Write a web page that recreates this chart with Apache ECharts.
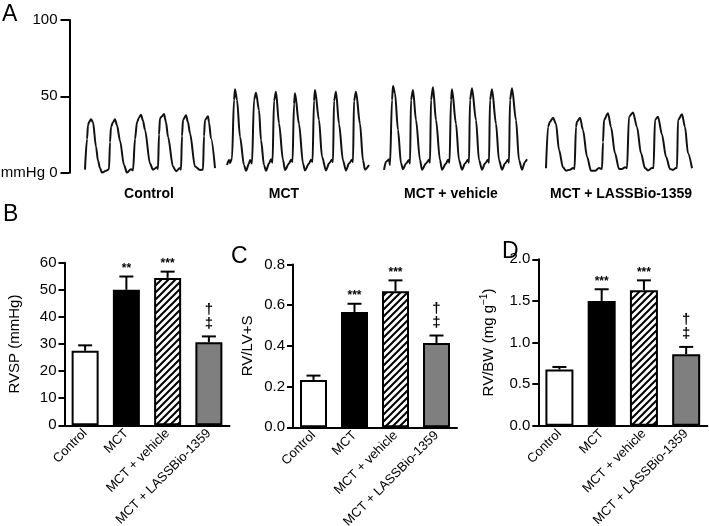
<!DOCTYPE html>
<html>
<head>
<meta charset="utf-8">
<script src="https://cdn.jsdelivr.net/npm/echarts@6/dist/echarts.min.js"></script>
<style>
  html, body { margin: 0; padding: 0; background: #fff; }
  #chart { width: 709px; height: 526px; }
</style>
</head>
<body>
<div id="chart"></div>
<script>
const groups = ['Control', 'MCT', 'MCT + vehicle', 'MCT + LASSBio-1359']

// panel A: RV pressure traces, [time, mmHg]
const controlTrace = [
  [0, 2], [2, 22], [3, 31], [4, 33], [6, 35], [8, 33], [11, 17], [13, 8], [15, 3], [17, 0], [21, 1.3], [24, 2.3],
  [25, 20], [26, 30], [28, 33], [30, 35], [32, 31], [35, 21], [39, 5], [42, 0], [46, 2.3], [48, 1.5],
  [50, 22], [52, 33], [54, 36], [56, 38], [58, 34], [60, 28], [65, 6], [68, 2], [72, 3.5], [73, 2.5],
  [74, 25], [75, 35.6], [77, 37], [79, 38.4], [81, 33], [83, 23.6], [88, 4], [91, 1], [95, 3], [96, 2],
  [97, 24], [98, 34.5], [101, 37.6], [103, 33], [105, 25.8], [110, 4], [115, 1.8], [118, 2],
  [119, 24], [120, 34.5], [123, 37], [124, 33], [126, 22.5], [130, 3]
]
const mctTrace = [
  [0, 5], [2, 8.3], [3, 6.4], [5, 9.4], [7, 47.6], [8, 54.6], [10, 47.6], [13, 23.6], [17, 5], [19, 1.3],
  [22, 6], [23, 8.3], [25, 6], [27, 47.6], [29, 52.4], [32, 41], [34, 21.4], [37, 5], [39, 1.3],
  [42, 6], [44, 8.8], [45.5, 6.5], [47, 47], [49, 53], [52, 32.4], [56, 8.3], [58, 1.8],
  [62, 6], [64, 8.5], [65.5, 7], [67, 45], [68, 52], [72, 32], [76, 6], [78, 1.5],
  [82, 6], [84, 8.5], [85.5, 7], [87, 47], [88, 54.2], [92, 34.5], [95, 10.5], [99, 1.5],
  [102, 6], [105, 8.5], [106, 7], [107, 47], [109, 53], [112, 32], [116, 8], [119, 1.5],
  [122, 6], [125, 8.5], [126, 7], [127, 47], [129, 53], [133, 32], [136, 8], [138, 2], [142, 5]
]
const vehicleTrace = [
  [0, 1.8], [2, 7.2], [5, 8.7], [6, 5], [8, 47.6], [9, 56.8], [11, 52], [14, 28], [17, 6.2], [19, 2.2],
  [22, 6], [25, 8.3], [26, 6], [27, 47.6], [29, 54.2], [32, 34.5], [36, 8.3], [38, 2],
  [42, 6], [45, 8.5], [46, 6.5], [47, 47.6], [49, 56], [52, 34.5], [56, 8.3], [58, 2],
  [62, 6], [64, 8.5], [65.5, 6.5], [67, 47.6], [68, 54.6], [72, 32], [75, 8.3], [78, 2],
  [81, 6], [84, 8.5], [85, 6.5], [86, 47.6], [88, 55.3], [92, 34.5], [95, 8.3], [98, 2],
  [101, 6], [104, 8.5], [105, 6.5], [106, 47.6], [108, 54.6], [112, 32], [115, 8.3], [118, 2],
  [121, 6], [124, 8.5], [125, 6.5], [126, 47.6], [128, 55.3], [132, 34.5], [135, 8.3], [138, 2],
  [141, 7], [143, 8.8]
]
const lassbioTrace = [
  [0, 2.9], [2, 30], [4, 33.4], [7, 36], [10, 32], [13, 15], [17, 3.5], [20, 1.3], [24, 2], [27, 3],
  [28.5, 2.5], [30, 30], [31, 33.4], [34, 36], [37, 28], [41, 10.5], [45, 1.3], [49, 1.3], [53, 3],
  [56, 2.5], [57, 20], [58, 34.5], [62, 38.9], [65, 30], [69, 12.7], [73, 2.5], [76, 2.5], [79, 3.5],
  [81, 3], [83, 36.7], [87, 39.5], [91, 30], [95, 12.7], [99, 3], [102, 1.5], [106, 3],
  [107.5, 3], [109, 34.5], [112, 36.7], [116, 25], [120, 10.5], [124, 2.5], [127, 1.8], [130, 3],
  [131, 3], [132, 34.5], [136, 38.2], [139, 30], [142, 12.7], [146, 2.9]
]
const traceTicks = [0, 50, 100]

// panel B: RVSP (mmHg)
const rvspMean = [27.5, 50.0, 54.4, 30.6]
const rvspSem = [2.0, 4.9, 2.3, 2.2]
const rvspSig = ['', '**', '***', '†‡']
// panel C: RV/LV+S
const ratioMean = [0.233, 0.566, 0.668, 0.414]
const ratioSem = [0.021, 0.041, 0.054, 0.037]
const ratioSig = ['', '***', '***', '†‡']
// panel D: RV/BW (mg g-1)
const rvbwMean = [0.676, 1.50, 1.627, 0.86]
const rvbwSem = [0.03, 0.14, 0.12, 0.087]
const rvbwSig = ['', '***', '***', '†‡']

const font = 'Liberation Sans, Arial, Helvetica, sans-serif'

// diagonal hatch for MCT + vehicle
const hatch = document.createElement('canvas')
hatch.width = 7
hatch.height = 7
const hctx = hatch.getContext('2d')
hctx.fillStyle = '#fff'
hctx.fillRect(0, 0, 7, 7)
hctx.strokeStyle = '#000'
hctx.lineWidth = 2
hctx.beginPath()
hctx.moveTo(-1, 8); hctx.lineTo(8, -1)
hctx.moveTo(-3, 3); hctx.lineTo(3, -3)
hctx.moveTo(4, 10); hctx.lineTo(10, 4)
hctx.stroke()

const barFills = ['#fff', '#000', { image: hatch, repeat: 'repeat' }, '#7f7f7f']

const chart = echarts.init(document.getElementById('chart'))

const traceGrids = [
  { left: 85, width: 130, data: controlTrace },
  { left: 227, width: 142, data: mctTrace },
  { left: 384, width: 143, data: vehicleTrace },
  { left: 546, width: 146, data: lassbioTrace }
]

const panels = [
  { left: 64.5, width: 165, top: 262.7, bottom: 425.3, max: 60, interval: 10, digits: 0,
    name: 'RVSP (mmHg)', nameGap: 42, mean: rvspMean, sem: rvspSem, sig: rvspSig, barWidth: 27 },
  { left: 293, width: 164, top: 264.5, bottom: 427.3, max: 0.8, interval: 0.2, digits: 1,
    name: 'RV/LV+S', nameGap: 38, mean: ratioMean, sem: ratioSem, sig: ratioSig, barWidth: 27 },
  { left: 538.3, width: 169, top: 259.3, bottom: 425.7, max: 2, interval: 0.5, digits: 1,
    name: '{a|RV/BW (mg g}{s|−1}{a|)}', nameGap: 40, mean: rvbwMean, sem: rvbwSem, sig: rvbwSig, barWidth: 28 }
]

const grid = [{ left: 69.5, top: 20, width: 10, height: 152.7, outerBoundsMode: 'none' }]
const xAxis = [{ gridIndex: 0, type: 'value', min: 0, max: 1, show: false }]
const yAxis = [{
  gridIndex: 0, type: 'value', min: 0, max: 100, interval: 50,
  axisLine: { show: true, lineStyle: { color: '#000', width: 2 } },
  axisTick: { show: true, length: 9, lineStyle: { color: '#000', width: 2 } },
  axisLabel: {
    margin: 12, fontSize: 15, color: '#000', fontFamily: font,
    formatter: v => (v === traceTicks[0] ? 'mmHg 0' : String(v))
  },
  splitLine: { show: false }
}]
const series = []

traceGrids.forEach(t => {
  const gi = grid.length
  grid.push({ left: t.left, top: 20, width: t.width, height: 152.7, outerBoundsMode: 'none' })
  xAxis.push({ gridIndex: gi, type: 'value', min: 0, max: t.width, show: false })
  yAxis.push({ gridIndex: gi, type: 'value', min: 0, max: 100, show: false })
  series.push({
    type: 'line', xAxisIndex: gi, yAxisIndex: gi, data: t.data,
    symbol: 'none', smooth: 0.3, smoothMonotone: 'x',
    lineStyle: { color: '#111', width: 2 }
  })
})

panels.forEach(p => {
  const gi = grid.length
  grid.push({ left: p.left, top: p.top, width: p.width, height: p.bottom - p.top, outerBoundsMode: 'none' })
  xAxis.push({
    gridIndex: gi, type: 'category', data: groups,
    axisLine: { show: true, lineStyle: { color: '#000', width: 2 } },
    axisTick: { show: false },
    axisLabel: { interval: 0, rotate: 45, margin: 6, fontSize: 13, color: '#000', fontFamily: font }
  })
  yAxis.push({
    gridIndex: gi, type: 'value', min: 0, max: p.max, interval: p.interval,
    name: p.name, nameLocation: 'middle', nameGap: p.nameGap, nameRotate: 90,
    nameTextStyle: {
      fontSize: 15, color: '#000', fontFamily: font,
      rich: {
        a: { fontSize: 15, color: '#000', fontFamily: font },
        s: { fontSize: 10, color: '#000', fontFamily: font, padding: [0, 0, 9, 0] }
      }
    },
    axisLine: { show: true, lineStyle: { color: '#000', width: 2 } },
    axisTick: { show: true, length: 6, lineStyle: { color: '#000', width: 2 } },
    axisLabel: { margin: 8, fontSize: 15, color: '#000', fontFamily: font, formatter: v => v.toFixed(p.digits) },
    splitLine: { show: false }
  })
  series.push({
    type: 'bar', xAxisIndex: gi, yAxisIndex: gi, barWidth: p.barWidth,
    data: p.mean.map((v, i) => ({ value: v, itemStyle: { color: barFills[i] } })),
    itemStyle: { borderColor: '#000', borderWidth: 2 },
    z: 2
  })
  series.push({
    type: 'custom', xAxisIndex: gi, yAxisIndex: gi, z: 3,
    data: p.mean.map((v, i) => [i, v, v + p.sem[i]]),
    renderItem: (params, api) => {
      const i = api.value(0)
      const base = api.coord([i, api.value(1)])
      const tip = api.coord([i, api.value(2)])
      const children = [
        { type: 'line', shape: { x1: tip[0], y1: base[1], x2: tip[0], y2: tip[1] }, style: { stroke: '#000', lineWidth: 2 } },
        { type: 'line', shape: { x1: tip[0] - 7, y1: tip[1], x2: tip[0] + 7, y2: tip[1] }, style: { stroke: '#000', lineWidth: 2 } }
      ]
      const s = p.sig[i]
      const txt = (text, dy, size) => ({
        type: 'text', x: tip[0], y: tip[1] - dy,
        style: { text, fill: '#000', fontSize: size, fontWeight: 'bold', fontFamily: font, align: 'center', verticalAlign: 'middle' }
      })
      if (s.startsWith('*')) {
        children.push(txt(s, 8, 12))
      } else if (s) {
        children.push(txt(s[1], 13, 15))
        children.push(txt(s[0], 27, 15))
      }
      return { type: 'group', children }
    }
  })
})

const letter = (text, x, y) => ({
  type: 'text', x, y,
  style: { text, fill: '#000', fontSize: 23, fontFamily: font }
})
const traceLabel = (text, x) => ({
  type: 'text', x, y: 194,
  style: { text, fill: '#000', fontSize: 14, fontWeight: 'bold', fontFamily: font, align: 'center', verticalAlign: 'middle' }
})

chart.setOption({
  animation: false,
  backgroundColor: '#fff',
  grid, xAxis, yAxis, series,
  graphic: [
    letter('A', 2, 3),
    letter('B', 3, 203),
    letter('C', 231, 245),
    letter('D', 502, 240),
    traceLabel(groups[0], 149),
    traceLabel(groups[1], 284),
    traceLabel(groups[2], 451),
    traceLabel(groups[3], 621)
  ]
})
</script>
</body>
</html>
